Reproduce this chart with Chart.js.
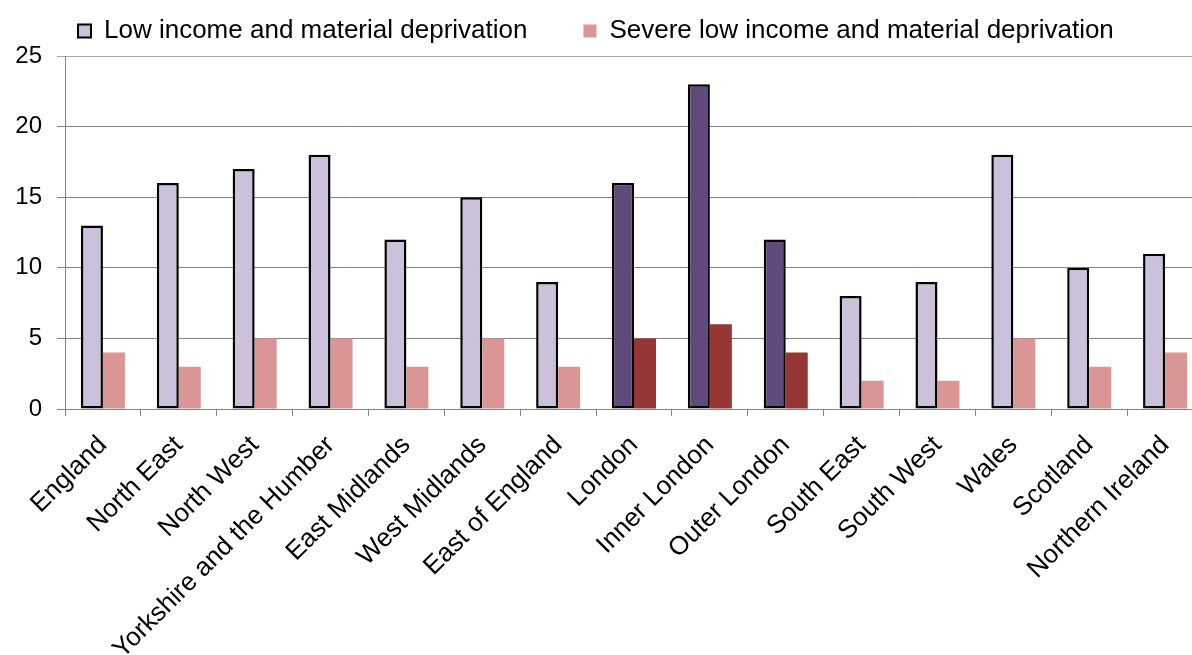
<!DOCTYPE html>
<html>
<head>
<meta charset="utf-8">
<script src="https://cdn.jsdelivr.net/npm/chart.js@4.4.1/dist/chart.umd.min.js"></script>
<style>
  html, body { margin: 0; padding: 0; background: #fff; overflow: hidden; }
  #wrap { position: relative; width: 1203px; height: 655px; }
</style>
</head>
<body>
<div id="wrap"><canvas id="c"></canvas></div>
<script>
const categories = ["England", "North East", "North West", "Yorkshire and the Humber", "East Midlands", "West Midlands", "East of England", "London", "Inner London", "Outer London", "South East", "South West", "Wales", "Scotland", "Northern Ireland"];
const lowIncome = [13, 16, 17, 18, 12, 15, 9, 16, 23, 12, 8, 9, 18, 10, 11];
const severeLowIncome = [4, 3, 5, 5, 3, 5, 3, 5, 6, 4, 2, 2, 5, 3, 4];
const highlighted = ["London", "Inner London", "Outer London"];
const seriesNames = ["Low income and material deprivation", "Severe low income and material deprivation"];
const yTicks = [0, 5, 10, 15, 20, 25];

const LOW = "#CCC1DA", LOW_HI = "#604A7B", SEV = "#D99694", SEV_HI = "#953735";
const lowColors = categories.map(c => highlighted.includes(c) ? LOW_HI : LOW);
const sevColors = categories.map(c => highlighted.includes(c) ? SEV_HI : SEV);

const GRID = "#848484";
const FONT = "'Liberation Sans', Arial, sans-serif";

new Chart(document.getElementById("c"), {
  type: "bar",
  data: {
    labels: categories,
    datasets: [
      { label: seriesNames[0], data: lowIncome, backgroundColor: lowColors, borderColor: "#000", borderWidth: 2.5, borderSkipped: false },
      { label: seriesNames[1], data: severeLowIncome, backgroundColor: sevColors, borderWidth: 0 }
    ]
  },
  options: {
    responsive: true,
    maintainAspectRatio: false,
    animation: false,
    devicePixelRatio: 1,
    categoryPercentage: 0.58,
    barPercentage: 1.0,
    layout: { padding: { left: 5, right: 0, top: -38, bottom: 0 } },
    plugins: {
      tooltip: { enabled: false },
      legend: {
        position: "top",
        align: "start",
        onClick: null,
        labels: {
          font: { family: FONT, size: 26 },
          color: "#000",
          boxWidth: 13,
          boxHeight: 13,
          padding: 56,
          generateLabels: () => [
            { text: seriesNames[0], fillStyle: LOW, strokeStyle: "#000", lineWidth: 2, datasetIndex: 0 },
            { text: seriesNames[1], fillStyle: SEV, strokeStyle: SEV, lineWidth: 0, datasetIndex: 1 }
          ]
        }
      }
    },
    scales: {
      x: {
        offset: true,
        afterFit: (s) => { s.height = 246; },
        grid: { offset: true, drawOnChartArea: false, drawTicks: true, tickLength: 7, color: GRID, lineWidth: 1 },
        border: { display: true, color: GRID, width: 1 },
        ticks: {
          color: "#000",
          font: { family: FONT, size: 26 },
          minRotation: 45,
          maxRotation: 45,
          autoSkip: false,
          padding: 14
        }
      },
      y: {
        min: 0,
        max: 25,
        afterBuildTicks: (s) => { s.ticks = yTicks.map(v => ({ value: v })); },
        afterFit: (s) => { s.width = 60; },
        grid: {
          color: (ctx) => (ctx.tick && ctx.tick.value === 25) ? "#A6A6A6" : GRID,
          lineWidth: 1,
          drawTicks: true,
          tickLength: 8
        },
        border: { display: true, color: GRID, width: 1 },
        ticks: {
          color: "#000",
          font: { family: FONT, size: 24 },
          padding: 15
        }
      }
    }
  },
  plugins: [{
    id: "legendHeight",
    afterInit(chart) {
      const lg = chart.legend;
      if (lg) {
        const f = lg.fit.bind(lg);
        lg.fit = function () { f(); this.height = 94; };
      }
    },
    afterLayout(chart) {
      if (chart.legend) chart.legend.left = 22;
    }
  }]
});
</script>
</body>
</html>
